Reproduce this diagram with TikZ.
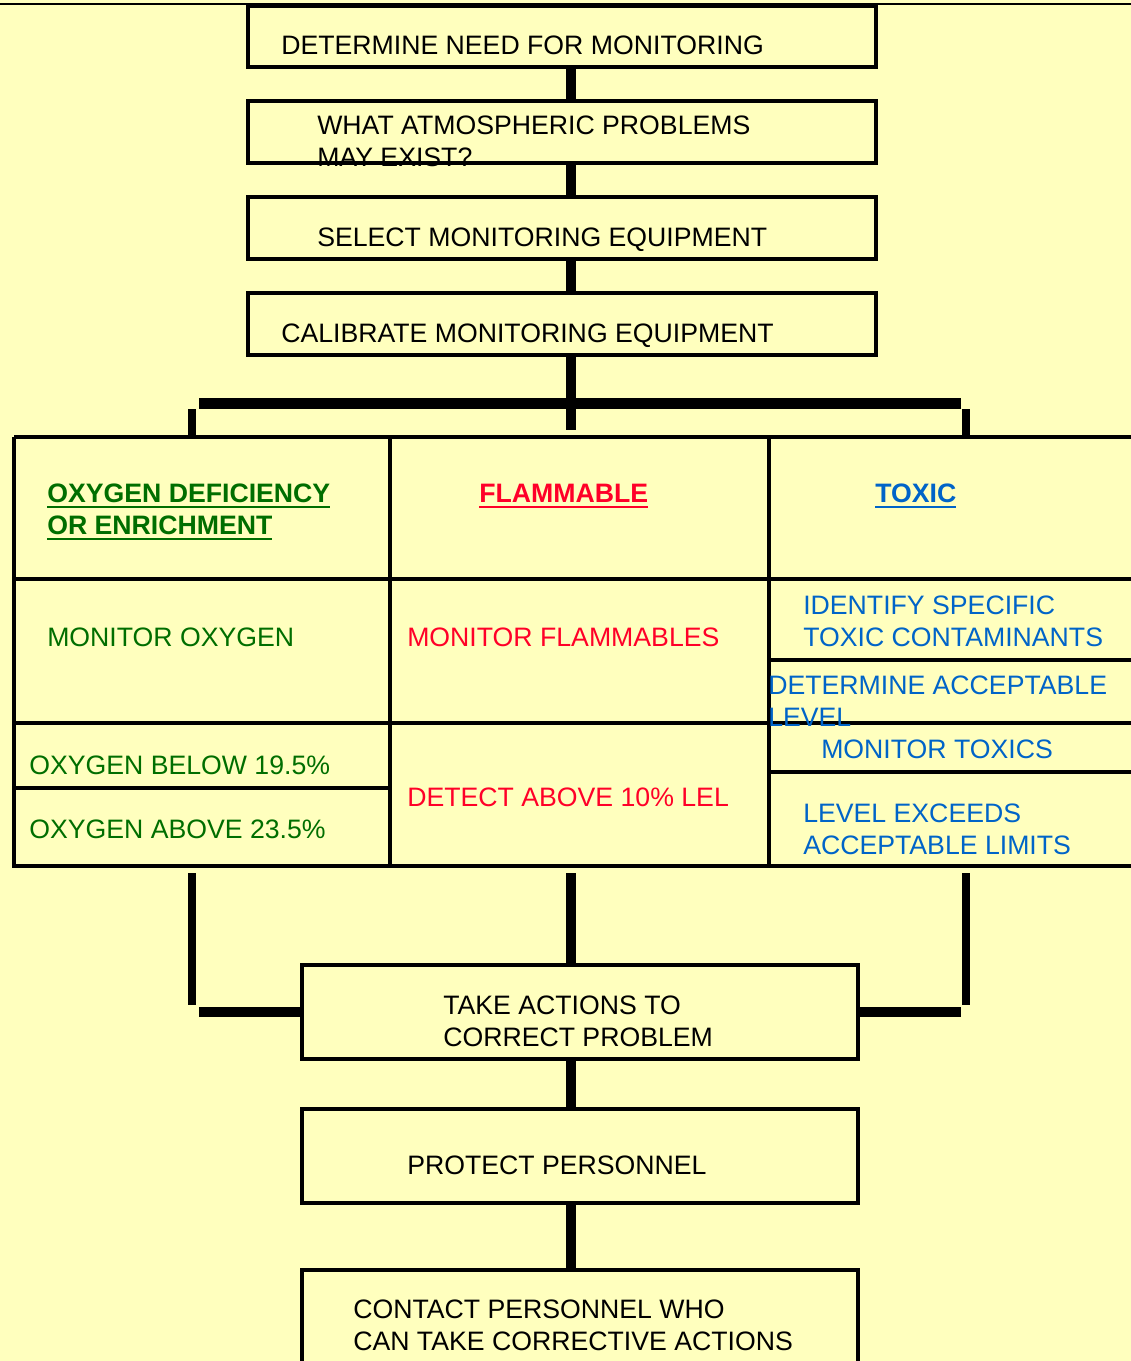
\documentclass[tikz,border=0pt]{standalone}
\usepackage{fontspec}
\setmainfont{Liberation Sans}
\usetikzlibrary{fit}
\definecolor{bg}{RGB}{255,255,190}
\definecolor{grn}{RGB}{0,110,0}
\definecolor{rd}{RGB}{255,0,40}
\definecolor{blu}{RGB}{0,100,200}
\newcommand{\myul}[1]{\setbox0\hbox{#1}\rlap{\rule[-4.3pt]{\wd0}{2pt}}\box0}
\begin{document}
\begin{tikzpicture}[x=0.75pt,y=-0.75pt,
  box/.style={draw, line width=2.3pt, inner sep=0pt},
  conn/.style={line width=7.8pt},
  branch/.style={line width=6.5pt},
  grid/.style={line width=2.3pt},
  heavy/.style={line width=3.4pt},
  txt/.style={anchor=base west, inner sep=0pt, font=\fontsize{20}{24}\selectfont},
]
\fill[bg] (0,0) rectangle (1131,1361);
\useasboundingbox (0,0) rectangle (1131,1361);
\draw[line width=1.1pt] (0,4) -- (1131,4);
\coordinate (xc) at (571,0);

% boxes
\node[box, fit={(248,6)(876,67)}] (b1) {};
\node[box, fit={(248,101)(876,163)}] (b2) {};
\node[box, fit={(248,197)(876,259)}] (b3) {};
\node[box, fit={(248,293)(876,355)}] (b4) {};
\node[box, fit={(302,965)(858,1059)}] (b5) {};
\node[box, fit={(302,1109)(858,1203)}] (b6) {};
\node[box, fit={(302,1270)(858,1380)}] (b7) {};

% upper connectors
\draw[conn] (b1.south -| xc) -- (b2.north -| xc);
\draw[conn] (b2.south -| xc) -- (b3.north -| xc);
\draw[conn] (b3.south -| xc) -- (b4.north -| xc);
\coordinate (hubC) at (571,430);
\draw[conn] (b4.south -| xc) -- (hubC);
\coordinate (barL) at (199,403.5);
\coordinate (barR) at (961,403.5);
\draw[conn] (barL) -- (barR);
\coordinate (legLt) at (192,409);
\coordinate (legLb) at (192,437);
\coordinate (legRt) at (966,409);
\coordinate (legRb) at (966,437);
\draw[branch] (legLt) -- (legLb);
\draw[branch] (legRt) -- (legRb);

% table grid
\draw[grid] (14,437) -- (1136,437);
\draw[grid] (14,437) -- (14,866) -- (1136,866);
\draw[heavy] (390,437) -- (390,866);
\draw[heavy] (769,437) -- (769,866);
\draw[heavy] (14,579) -- (1136,579);
\draw[heavy] (14,723) -- (1136,723);
\draw[grid] (14,788) -- (390,788);
\draw[grid] (769,660) -- (1136,660);
\draw[grid] (769,772) -- (1136,772);

% lower connectors
\coordinate (dL) at (192,873);
\coordinate (dLb) at (192,1005);
\coordinate (dC) at (571,873);
\coordinate (dR) at (966,873);
\coordinate (dRb) at (966,1005);
\coordinate (jL) at (199,1012);
\coordinate (jR) at (961,1012);
\draw[branch] (dL) -- (dLb);
\draw[branch] (dR) -- (dRb);
\draw[conn] (dC) -- (b5.north -| xc);
\draw[conn] (jL) -- (b5.west);
\draw[conn] (b5.east) -- (jR);
\draw[conn] (b5.south -| xc) -- (b6.north -| xc);
\draw[conn] (b6.south -| xc) -- (b7.north -| xc);

% box texts
\node[txt] (t1) at (281,54.5) {DETERMINE NEED FOR MONITORING};
\node[txt] (t2a) at (317,134.5) {WHAT ATMOSPHERIC PROBLEMS};
\node[txt] (t2b) at (317,166.5) {MAY EXIST?};
\node[txt] (t3) at (317,246.5) {SELECT MONITORING EQUIPMENT};
\node[txt] (t4) at (281,342.5) {CALIBRATE MONITORING EQUIPMENT};
\node[txt] (t5a) at (443,1014.5) {TAKE ACTIONS TO};
\node[txt] (t5b) at (443,1046.5) {CORRECT PROBLEM};
\node[txt] (t6) at (407,1174.5) {PROTECT PERSONNEL};
\node[txt] (t7a) at (353,1318.5) {CONTACT PERSONNEL WHO};
\node[txt] (t7b) at (353,1350.5) {CAN TAKE CORRECTIVE ACTIONS};

% table texts
\node[txt, text=grn] (h1a) at (47,502.5) {\myul{\textbf{OXYGEN DEFICIENCY}}};
\node[txt, text=grn] (h1b) at (47,534.5) {\myul{\textbf{OR ENRICHMENT}}};
\node[txt, text=rd] (h2) at (479,502.5) {\myul{\textbf{FLAMMABLE}}};
\node[txt, text=blu] (h3) at (875,502.5) {\myul{\textbf{TOXIC}}};
\node[txt, text=grn] (m1) at (47,646.5) {MONITOR OXYGEN};
\node[txt, text=rd] (m2) at (407,646.5) {MONITOR FLAMMABLES};
\node[txt, text=blu] (m3a) at (803,614.5) {IDENTIFY SPECIFIC};
\node[txt, text=blu] (m3b) at (803,646.5) {TOXIC CONTAMINANTS};
\node[txt, text=blu] (m4a) at (768,694.5) {DETERMINE ACCEPTABLE};
\node[txt, text=blu] (m4b) at (768,726.5) {LEVEL};
\node[txt, text=blu] (m5) at (821,758.5) {MONITOR TOXICS};
\node[txt, text=blu] (m6a) at (803,822.5) {LEVEL EXCEEDS};
\node[txt, text=blu] (m6b) at (803,854.5) {ACCEPTABLE LIMITS};
\node[txt, text=grn] (o1) at (29,774.5) {OXYGEN BELOW 19.5\%};
\node[txt, text=grn] (o2) at (29,838.5) {OXYGEN ABOVE 23.5\%};
\node[txt, text=rd] (f1) at (407,806.5) {DETECT ABOVE 10\% LEL};
\end{tikzpicture}
\end{document}
